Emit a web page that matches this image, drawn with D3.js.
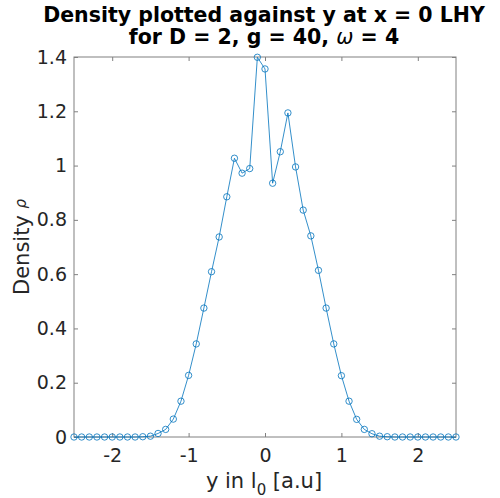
<!DOCTYPE html>
<html>
<head>
<meta charset="utf-8">
<script src="https://cdn.jsdelivr.net/npm/d3@7"></script>
<style>
  body { margin: 0; background: white; }
  text { font-family: "DejaVu Sans", sans-serif; fill: #262626; }
</style>
</head>
<body>
<div id="chart"></div>
<script>
var width = 500, height = 498;
var margin = {top: 57, right: 44, bottom: 61, left: 74};

// data
var yPos = [-2.5, -2.4, -2.3, -2.2, -2.1, -2.0, -1.9, -1.8, -1.7, -1.6,
  -1.5, -1.4, -1.3, -1.2, -1.1, -1.0, -0.9, -0.8, -0.7, -0.6,
  -0.5, -0.4, -0.3, -0.2, -0.1, 0.0, 0.1, 0.2, 0.3, 0.4,
  0.5, 0.6, 0.7, 0.8, 0.9, 1.0, 1.1, 1.2, 1.3, 1.4,
  1.5, 1.6, 1.7, 1.8, 1.9, 2.0, 2.1, 2.2, 2.3, 2.4, 2.5];
var density = [0, 0, 0, 0, 0, 0, 0, 0, 0, 0.001,
  0.003, 0.013, 0.028, 0.066, 0.132, 0.227, 0.343, 0.475, 0.609, 0.737,
  0.885, 1.027, 0.972, 0.989, 1.399, 1.356, 0.935, 1.051, 1.194, 0.995,
  0.836, 0.741, 0.614, 0.475, 0.343, 0.226, 0.132, 0.065, 0.028, 0.012,
  0.003, 0.001, 0, 0, 0, 0, 0, 0, 0, 0, 0];
var xTicks = [-2, -1, 0, 1, 2];
var yTicks = [0, 0.2, 0.4, 0.6, 0.8, 1, 1.2, 1.4];

var svg = d3.select("#chart")
  .append("svg")
  .attr("width", width)
  .attr("height", height);

var xScale = d3.scaleLinear()
  .domain([-2.5, 2.5])
  .range([margin.left, width - margin.right]);

var yScale = d3.scaleLinear()
  .domain([0, 1.4])
  .range([height - margin.bottom, margin.top]);

var axisColor = "#808080";

// box
svg.append("rect")
  .attr("x", margin.left)
  .attr("y", margin.top)
  .attr("width", width - margin.left - margin.right)
  .attr("height", height - margin.top - margin.bottom)
  .attr("fill", "white")
  .attr("stroke", axisColor)
  .attr("stroke-width", 1);

// bottom axis (ticks inside)
var xAxis = svg.append("g")
  .attr("transform", `translate(0,${height - margin.bottom})`)
  .call(d3.axisBottom(xScale).tickValues(xTicks).tickSize(-4).tickPadding(12).tickFormat(d => d))
xAxis.select(".domain").remove();
xAxis.selectAll("line").attr("stroke", axisColor);
xAxis.selectAll("text").style("font-size", "19px").style("fill", "#262626")
  .style("font-family", "DejaVu Sans");

// top ticks
svg.append("g")
  .attr("transform", `translate(0,${margin.top})`)
  .call(d3.axisTop(xScale).tickValues(xTicks).tickSize(-4).tickFormat(""))
  .call(g => g.select(".domain").remove())
  .selectAll("line").attr("stroke", axisColor);

// left axis
var yAxis = svg.append("g")
  .attr("transform", `translate(${margin.left},0)`)
  .call(d3.axisLeft(yScale).tickValues(yTicks).tickSize(-4).tickPadding(7).tickFormat(d => d))
yAxis.select(".domain").remove();
yAxis.selectAll("line").attr("stroke", axisColor);
yAxis.selectAll("text").style("font-size", "19px").style("fill", "#262626")
  .style("font-family", "DejaVu Sans");

// right ticks
svg.append("g")
  .attr("transform", `translate(${width - margin.right},0)`)
  .call(d3.axisRight(yScale).tickValues(yTicks).tickSize(-4).tickFormat(""))
  .call(g => g.select(".domain").remove())
  .selectAll("line").attr("stroke", axisColor);

// line + markers
var pts = yPos.map((d, i) => ({x: d, v: density[i]}));
var line = d3.line()
  .x(d => xScale(d.x))
  .y(d => yScale(d.v));

svg.append("path")
  .datum(pts)
  .attr("d", line)
  .attr("fill", "none")
  .attr("stroke", "#0072BD")
  .attr("stroke-width", 0.8);

svg.selectAll(".dot")
  .data(pts)
  .enter()
  .append("circle")
  .attr("class", "dot")
  .attr("cx", d => xScale(d.x))
  .attr("cy", d => yScale(d.v))
  .attr("r", 3.2)
  .attr("fill", "none")
  .attr("stroke", "#0072BD")
  .attr("stroke-width", 0.8);

// title
svg.append("text")
  .attr("x", 264).attr("y", 22)
  .attr("text-anchor", "middle")
  .style("font-size", "20.5px").style("font-weight", "bold").style("fill", "black")
  .text("Density plotted against y at x = 0 LHY");
var t2 = svg.append("text")
  .attr("x", 264).attr("y", 44)
  .attr("text-anchor", "middle")
  .style("font-size", "20.5px").style("font-weight", "bold").style("fill", "black");
t2.append("tspan").text("for D = 2, g = 40, ");
t2.append("tspan").style("font-style", "italic").style("font-weight", "normal").text("ω");
t2.append("tspan").text(" = 4");

// x label
var xl = svg.append("text")
  .attr("x", 264).attr("y", 488)
  .attr("text-anchor", "middle")
  .style("font-size", "21px");
xl.append("tspan").text("y in l");
xl.append("tspan").attr("dy", 7).style("font-size", "15px").text("0");
xl.append("tspan").attr("dy", -7).text(" [a.u]");

// y label
var yl = svg.append("text")
  .attr("transform", `translate(29,${(margin.top + height - margin.bottom) / 2}) rotate(-90)`)
  .attr("text-anchor", "middle")
  .style("font-size", "21px");
yl.append("tspan").text("Density ");
yl.append("tspan").attr("dy", -3).style("font-style", "italic").style("font-size", "15px").text("ρ");
</script>
</body>
</html>
